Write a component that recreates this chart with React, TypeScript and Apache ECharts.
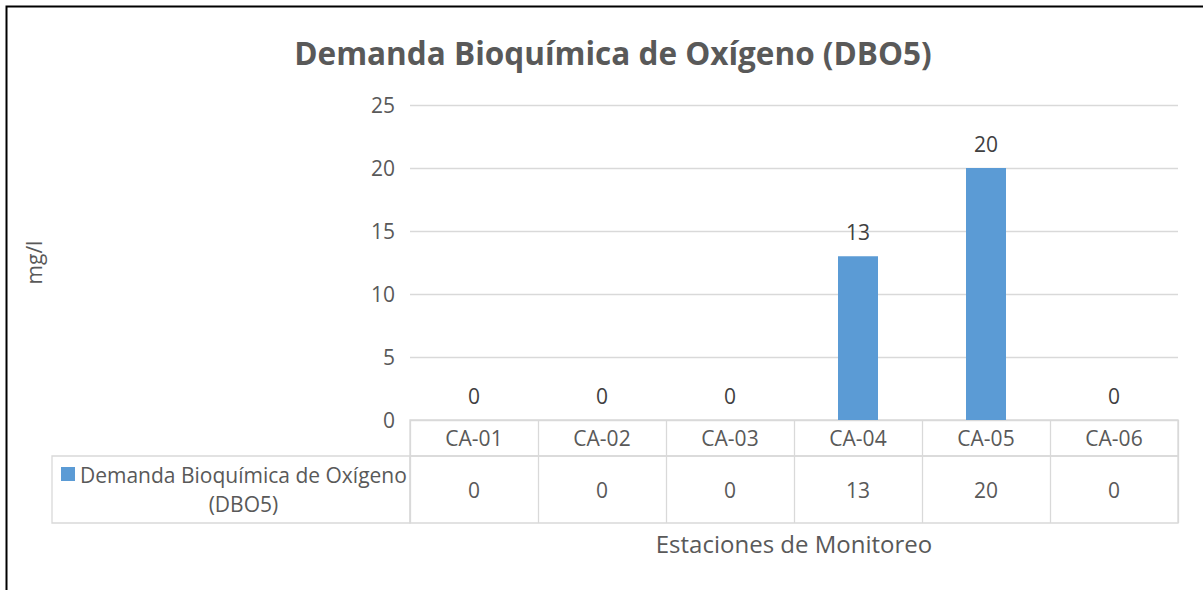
import React, { useEffect, useRef } from "react";
import * as echarts from "echarts";

const title = "Demanda Bioquímica de Oxígeno (DBO5)";
const seriesName = "Demanda Bioquímica de Oxígeno (DBO5)";
const categories = ["CA-01", "CA-02", "CA-03", "CA-04", "CA-05", "CA-06"];
const values = [0, 0, 0, 13, 20, 0];
const yMin = 0;
const yMax = 25;
const yInterval = 5;
const yName = "mg/l";
const xName = "Estaciones de Monitoreo";

const FONT = "'Open Sans', sans-serif";
const GRAY = "#595959";
const DARK = "#404040";
const LINE = "#d9d9d9";

export default function App() {
  const ref = useRef<HTMLDivElement>(null);
  useEffect(() => {
    if (!ref.current) return;
    const chart = echarts.init(ref.current, undefined, { renderer: "svg" });
    const option: any = {
      animation: false,
      backgroundColor: "#fff",
      textStyle: { fontFamily: FONT },
      title: {
        text: title,
        left: 608,
        textAlign: "center",
        top: 31,
        textStyle: { fontFamily: FONT, fontSize: 31.5, fontWeight: "bold", color: GRAY },
      },
      legend: {
        data: [seriesName],
        left: 61,
        top: 464,
        padding: 0,
        itemWidth: 14,
        itemHeight: 44,
        itemGap: 5,
        icon: "path://M0,0L14,0L14,14L0,14Z M0,44L0.01,44",
        formatter: () => "{a|Demanda Bioquímica de Oxígeno}\n{a|(DBO5)}",
        textStyle: {
          fontFamily: FONT,
          fontSize: 21,
          color: GRAY,
          rich: { a: { fontFamily: FONT, fontSize: 21, color: GRAY, align: "center", lineHeight: 29 } },
        },
        selectedMode: false,
      },
      grid: [
        { left: 410, right: 25, top: 105, bottom: 170 },
        { left: 410, right: 25, top: 420, height: 36, show: true, borderColor: LINE, borderWidth: 1.3 },
        { left: 410, right: 25, top: 456, height: 67, show: true, borderColor: LINE, borderWidth: 1.3 },
      ],
      xAxis: [
        {
          gridIndex: 0,
          type: "category",
          data: categories,
          axisLine: { show: false },
          axisTick: { show: false },
          axisLabel: { interval: 0, margin: 7, fontFamily: FONT, fontSize: 21, color: GRAY },
        },
        {
          gridIndex: 1,
          type: "category",
          data: categories,
          axisLine: { show: false },
          axisTick: { show: false },
          axisLabel: { show: false, interval: 0 },
          splitLine: { show: true, interval: 0, lineStyle: { color: LINE, width: 1.3 } },
        },
        {
          gridIndex: 2,
          type: "category",
          data: categories,
          axisLine: { show: false },
          axisTick: { show: false },
          axisLabel: { show: false, interval: 0 },
          splitLine: { show: true, interval: 0, lineStyle: { color: LINE, width: 1.3 } },
          name: xName,
          nameLocation: "middle",
          nameGap: 8,
          nameTextStyle: { fontFamily: FONT, fontSize: 24, color: GRAY, verticalAlign: "top" },
        },
      ],
      yAxis: [
        {
          gridIndex: 0,
          type: "value",
          min: yMin,
          max: yMax,
          interval: yInterval,
          axisLine: { show: false },
          axisTick: { show: false },
          axisLabel: { margin: 15, fontFamily: FONT, fontSize: 21, color: GRAY },
          splitLine: { lineStyle: { color: LINE, width: 1.3 } },
          name: yName,
          nameLocation: "middle",
          nameRotate: 90,
          nameGap: 366,
          nameTextStyle: { fontFamily: FONT, fontSize: 21, color: GRAY },
        },
        { gridIndex: 1, type: "value", min: 0, max: 1, show: false },
        { gridIndex: 2, type: "value", min: 0, max: 1, show: false },
      ],
      graphic: [
        {
          type: "rect",
          silent: true,
          z: 100,
          shape: { x: 6.5, y: 6.5, width: 1300, height: 700 },
          style: { fill: "none", stroke: "#000", lineWidth: 2 },
        },
        {
          type: "rect",
          silent: true,
          shape: { x: 52, y: 456, width: 358, height: 67 },
          style: { fill: "none", stroke: LINE, lineWidth: 1.3 },
        },
      ],
      series: [
        {
          name: seriesName,
          type: "bar",
          xAxisIndex: 0,
          yAxisIndex: 0,
          data: values,
          barWidth: 40,
          itemStyle: { color: "#5b9bd5" },
          label: {
            show: true,
            position: "top",
            distance: 14,
            fontFamily: FONT,
            fontSize: 21,
            color: DARK,
          },
        },
        {
          name: "tabla",
          type: "scatter",
          xAxisIndex: 2,
          yAxisIndex: 2,
          silent: true,
          symbolSize: 0,
          itemStyle: { color: GRAY },
          data: values.map((v, i) => [i, 0.5, v]),
          label: {
            show: true,
            position: "inside",
            formatter: (p: any) => String(p.value[2]),
            fontFamily: FONT,
            fontSize: 21,
            color: GRAY,
            opacity: 1,
          },
        },
      ],
    };
    chart.setOption(option);
    return () => chart.dispose();
  }, []);
  return (
    <div
      ref={ref}
      style={{ position: "fixed", left: 0, top: 0, width: 1203, height: 590, background: "#fff" }}
    />
  );
}
